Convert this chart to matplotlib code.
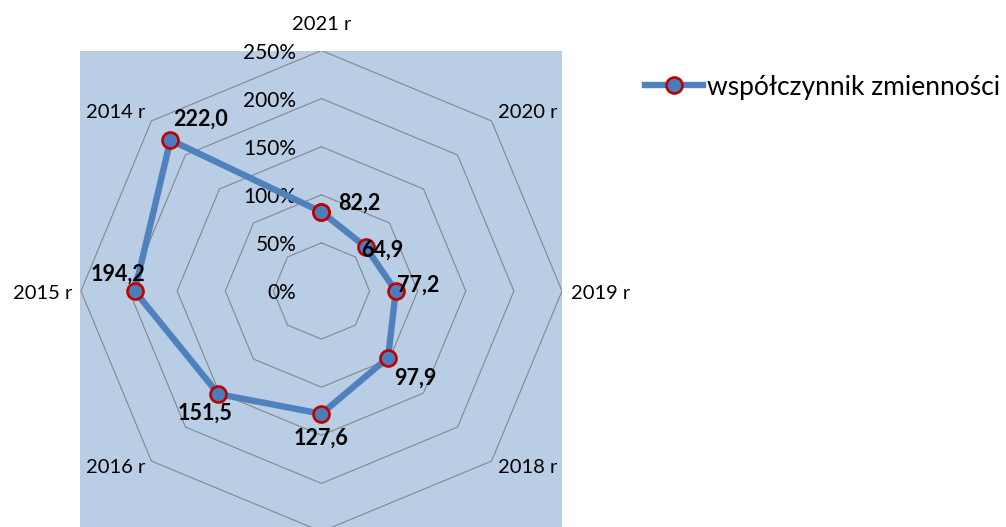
import numpy as np
import matplotlib.pyplot as plt


# Chart data (clockwise from the top).
CATEGORIES = ["2021 r", "2020 r", "2019 r", "2018 r", "2017 r", "2016 r", "2015 r", "2014 r"]
VALUES = [82.2, 64.9, 77.2, 97.9, 127.6, 151.5, 194.2, 222.0]
TICK_VALUES = [0, 50, 100, 150, 200, 250]
TICK_LABELS = ["0%", "50%", "100%", "150%", "200%", "250%"]
SERIES_NAME = "współczynnik zmienności"

# Pixel offsets of the data labels from their points.
LABEL_OFFSETS = [(38, 9), (17, -3), (22, 6), (27, -21), (0, -24), (-13, -19), (-17, 17), (30, 21)]

BG_COLOR = "#B9CDE5"
GRID_COLOR = "#868686"
LINE_COLOR = "#4F81BD"
EDGE_COLOR = "#C00000"

plt.rcParams["font.family"] = ["Lato", "DejaVu Sans"]


def polar_to_xy(radius, angles):
    return radius * np.sin(angles), radius * np.cos(angles)


def main() -> None:
    fig = plt.figure(figsize=(10.06, 5.27), dpi=100)
    ax = fig.add_axes([80 / 1006, 0, 482 / 1006, 476 / 527])
    ax.set_facecolor(BG_COLOR)
    ax.set_xlim(-251, 250)
    ax.set_ylim(-245.3, 249.5)
    for spine in ax.spines.values():
        spine.set_visible(False)
    ax.set_xticks([])
    ax.set_yticks([])

    n = len(CATEGORIES)
    angles = np.arange(n) * 2 * np.pi / n
    closed = np.append(angles, angles[0])

    # Octagonal grid rings
    for level in TICK_VALUES[1:]:
        gx, gy = polar_to_xy(level, closed)
        ax.plot(gx, gy, color=GRID_COLOR, lw=0.8, zorder=1)

    # Radial axis labels
    for level, text in zip(TICK_VALUES, TICK_LABELS):
        ax.annotate(text, (0, level), xytext=(-25, -2), textcoords="offset pixels",
                    ha="right", va="center", fontsize=15, annotation_clip=False)

    # Category labels around the outer ring
    outer = TICK_VALUES[-1]
    for angle, name in zip(angles, CATEGORIES):
        s, c = np.sin(angle), np.cos(angle)
        px, py = polar_to_xy(outer, angle)
        if abs(s) < 0.01:
            ha, off = "center", (0, 26 if c > 0 else -26)
        elif abs(c) < 0.01:
            ha, off = ("left", (9, -2)) if s > 0 else ("right", (-9, -2))
        else:
            ha = "left" if s > 0 else "right"
            off = (6 if s > 0 else -6, 8 if c > 0 else -6)
        ax.annotate(name, (px, py), xytext=off, textcoords="offset pixels",
                    ha=ha, va="center", fontsize=14.5, annotation_clip=False)

    # Data series
    vals = np.array(VALUES)
    dx, dy = polar_to_xy(np.append(vals, vals[0]), closed)
    ax.plot(dx, dy, color=LINE_COLOR, lw=4.6, solid_joinstyle="round", zorder=3,
            marker="o", markersize=11.5, markerfacecolor="#4A7EBB",
            markeredgecolor=EDGE_COLOR, markeredgewidth=1.9, label=SERIES_NAME)

    for x, y, v, off in zip(dx[:-1], dy[:-1], VALUES, LABEL_OFFSETS):
        ax.annotate(f"{v:.1f}".replace(".", ","), (x, y), xytext=off, textcoords="offset pixels",
                    ha="center", va="center", fontsize=15.5, fontweight="bold", zorder=5)

    fig.legend(loc="center left", bbox_to_anchor=(645 / 1006, 1 - 87 / 527), frameon=False,
               fontsize=19, handlelength=2.2, handletextpad=0.15, borderpad=0,
               borderaxespad=0, numpoints=1)

    fig.savefig("out.png", dpi=100)
    plt.close(fig)


if __name__ == "__main__":
    main()
